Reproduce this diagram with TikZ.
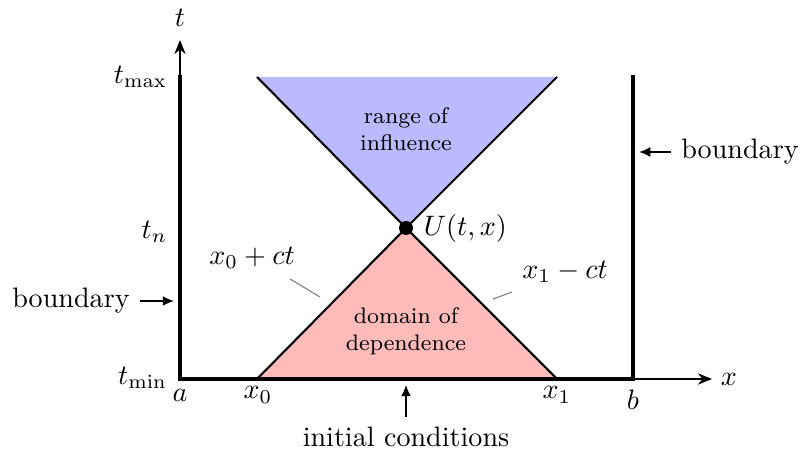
\documentclass[tikz,border=0pt]{standalone}
\usetikzlibrary{arrows.meta}
\begin{document}
\begin{tikzpicture}[x=0.0125cm,y=-0.0125cm,
  axis/.style={thin,-{Stealth[length=5pt,width=4pt]}},
  bnd/.style={line width=1.3pt},
  cone/.style={draw=black,line width=0.75pt,line join=miter},
  ptr/.style={-{Latex[length=4pt,width=3.5pt]},line width=0.5pt},
  lead/.style={gray,line width=0.4pt},
  inner/.style={font=\footnotesize,align=center}]
\useasboundingbox (0,0) rectangle (804,452);
% coordinates
\coordinate (O) at (180,379);
\coordinate (TT) at (180,40);
\coordinate (XX) at (712,379);
\coordinate (Tmax) at (180,77);
\coordinate (B0) at (633,379);
\coordinate (B1) at (633,77);
\coordinate (U) at (406,228);
\coordinate (BL) at (257,77);
\coordinate (BR) at (557,77);
\coordinate (RL) at (257,379);
\coordinate (RR) at (557,379);
% cones
\path[fill=blue!27] (BL) -- (U) -- (BR) -- cycle;
\path[fill=red!27] (RL) -- (U) -- (RR) -- cycle;
\draw[cone] (BL) -- (U) -- (BR);
\draw[cone] (RL) -- (U) -- (RR);
% axes
\draw[axis] (O) -- (TT);
\draw[axis] (O) -- (XX);
% boundaries
\draw[bnd,line cap=rect] (Tmax) -- (O) -- (B0) -- (B1);
% dot
\fill (U) circle (7);
% labels
\node (tl) at (180,18) {$t$};
\node (xl) at (729,379) {$x$};
\node[anchor=east] (tmax) at (177,77) {$t_{\max}$};
\node[anchor=east] (tn) at (177,232) {$t_n$};
\node[anchor=east] (tmin) at (177,378) {$t_{\min}$};
\node (al) at (180,395) {$a$};
\node (x0l) at (258,395) {$x_0$};
\node (x1l) at (557,395) {$x_1$};
\node (bl) at (633,400) {$b$};
\node[anchor=west] (Ul) at (414,228) {$U(t,x)$};
\node[inner] (range) at (406,129) {range of\\influence};
\node[inner] (dom) at (406,331) {domain of\\dependence};
\node (lx0) at (252,258) {$x_0+ct$};
\node (lx1) at (565,272) {$x_1-ct$};
\coordinate (lx0a) at (290,279);
\coordinate (lx0b) at (320,297);
\coordinate (lx1a) at (512,292);
\coordinate (lx1b) at (493,299);
\draw[lead] (lx0a) -- (lx0b);
\draw[lead] (lx1a) -- (lx1b);
% boundary pointers
\node (bdl) at (71,301) {boundary};
\coordinate (bdlt) at (174,301);
\draw[ptr] (bdl.east) -- (bdlt);
\node (bdr) at (740,152) {boundary};
\coordinate (bdrt) at (639,152);
\draw[ptr] (bdr.west) -- (bdrt);
\node (ic) at (406,437) {initial conditions};
\coordinate (ict) at (406,385);
\draw[ptr] (ic.north) -- (ict);
\end{tikzpicture}
\end{document}
